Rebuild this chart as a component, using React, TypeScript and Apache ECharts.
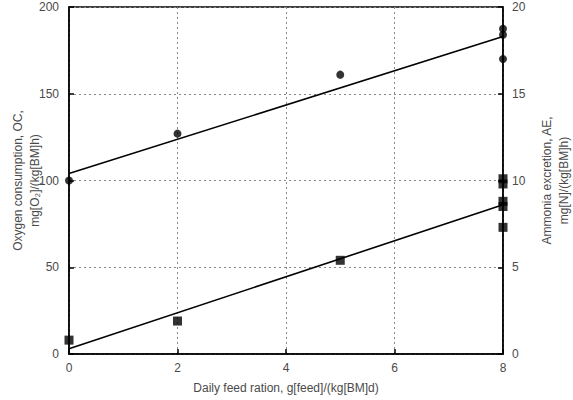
import React, { useEffect, useRef } from "react";
import * as echarts from "echarts";

// Feed ration levels, g[feed]/(kg[BM]d)
const ocRation = [0, 2, 5, 8, 8, 8];
// Oxygen consumption, mg[O2]/(kg[BM]h)
const ocValues = [100, 127, 161, 187.5, 184, 170];
const aeRation = [0, 2, 5, 8, 8, 8, 8, 8];
// Ammonia excretion, mg[N]/(kg[BM]h)
const aeValues = [0.8, 1.9, 5.4, 10.1, 9.8, 8.8, 8.5, 7.3];
// Fitted regression lines, endpoints at ration 0 and 8
const ocFitX = [0, 8];
const ocFitY = [104, 183];
const aeFitX = [0, 8];
const aeFitY = [0.3, 8.6];

const xTicks = { min: 0, max: 8, interval: 2 };
const ocTicks = { min: 0, max: 200, interval: 50 };
const aeTicks = { min: 0, max: 20, interval: 5 };

const FONT = "Liberation Sans, Arial, sans-serif";
const TEXT = "#4a4a4a";

const pairs = (xs: number[], ys: number[]) => xs.map((x, i) => [x, ys[i]]);

export default function App() {
  const ref = useRef<HTMLDivElement>(null);

  useEffect(() => {
    if (!ref.current) return;
    const chart = echarts.init(ref.current, null, { renderer: "svg" });
    const axisLine = { show: true, lineStyle: { color: "#000", width: 1.5 } };
    const axisTick = { show: true, inside: true, length: 5, lineStyle: { color: "#000", width: 1.5 } };
    const label = { color: TEXT, fontFamily: FONT, fontSize: 12 };
    const split = { show: true, lineStyle: { color: "#888", type: [2, 3] as any, width: 1 } };

    chart.setOption({
      animation: false,
      backgroundColor: "#fff",
      grid: {
        left: 69,
        right: 70,
        top: 7,
        bottom: 46,
        containLabel: false,
        outerBoundsMode: "none",
        show: true,
        borderColor: "#000",
        borderWidth: 1.5,
        backgroundColor: "transparent",
      },
      xAxis: {
        type: "value",
        ...xTicks,
        name: "Daily feed ration, g[feed]/(kg[BM]d)",
        nameLocation: "middle",
        nameGap: 28,
        nameMoveOverlap: false,
        nameTextStyle: { color: TEXT, fontFamily: FONT, fontSize: 12 },
        axisLine,
        axisTick,
        axisLabel: { ...label, margin: 8 },
        splitLine: split,
      },
      yAxis: [
        {
          type: "value",
          position: "left",
          ...ocTicks,
          name: "Oxygen consumption, OC,\nmg[O₂]/(kg[BM]h)",
          nameLocation: "middle",
          nameRotate: 90,
          nameGap: 26,
          nameMoveOverlap: false,
          nameTextStyle: { color: TEXT, fontFamily: FONT, fontSize: 12, lineHeight: 17, align: "center" },
          axisLine,
          axisTick,
          axisLabel: { ...label, margin: 10 },
          splitLine: split,
        },
        {
          type: "value",
          position: "right",
          ...aeTicks,
          name: "Ammonia excretion, AE,\nmg[N]/(kg[BM]h)",
          nameLocation: "middle",
          nameRotate: 90,
          nameGap: 35,
          nameMoveOverlap: false,
          nameTextStyle: { color: TEXT, fontFamily: FONT, fontSize: 12, lineHeight: 17, align: "center" },
          axisLine,
          axisTick,
          axisLabel: { ...label, margin: 9 },
          splitLine: { show: false },
        },
      ],
      series: [
        {
          type: "line",
          yAxisIndex: 0,
          data: pairs(ocFitX, ocFitY),
          symbol: "none",
          lineStyle: { color: "#000", width: 1.6 },
          silent: true,
          z: 3,
        },
        {
          type: "line",
          yAxisIndex: 1,
          data: pairs(aeFitX, aeFitY),
          symbol: "none",
          lineStyle: { color: "#000", width: 1.6 },
          silent: true,
          z: 3,
        },
        {
          type: "scatter",
          yAxisIndex: 0,
          data: pairs(ocRation, ocValues),
          symbol: "circle",
          symbolSize: 8,
          itemStyle: { color: "#000" },
          clip: false,
          z: 4,
        },
        {
          type: "scatter",
          yAxisIndex: 1,
          data: pairs(aeRation, aeValues),
          symbol: "rect",
          symbolSize: 9,
          itemStyle: { color: "#000" },
          clip: false,
          z: 4,
        },
      ],
    });
    return () => chart.dispose();
  }, []);

  return <div ref={ref} style={{ width: 573, height: 400, position: "absolute", left: 0, top: 0 }} />;
}
